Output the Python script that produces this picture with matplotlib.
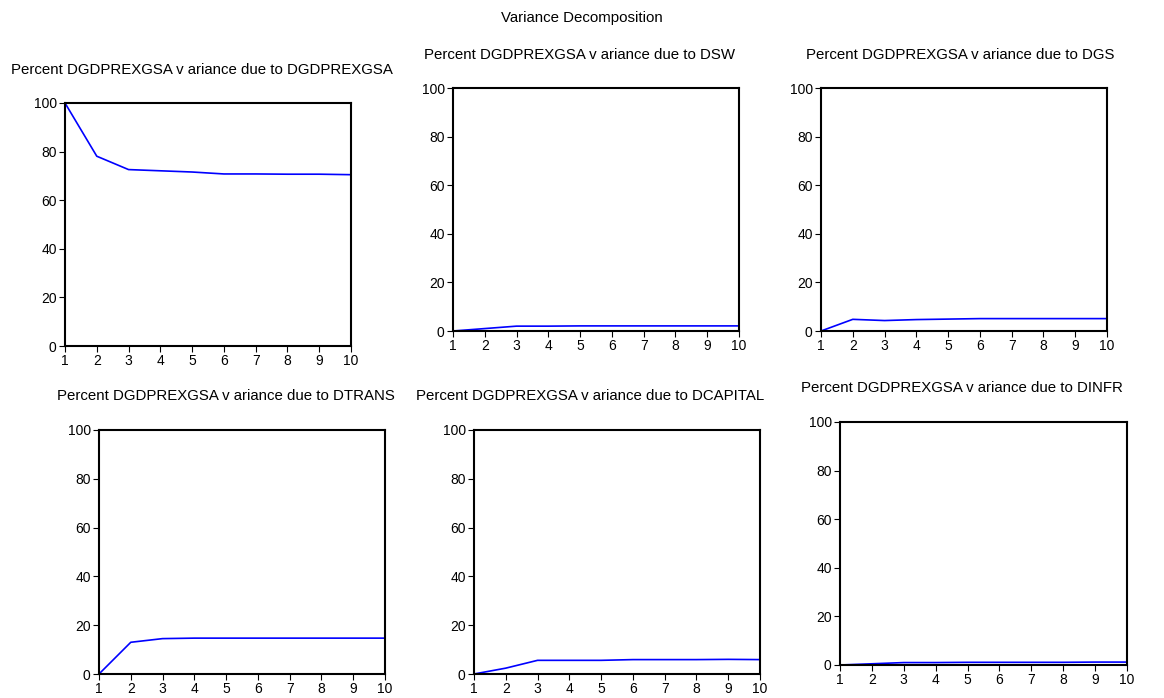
import matplotlib
matplotlib.use("Agg")
import matplotlib.pyplot as plt

plt.rcParams['font.family'] = ['Liberation Sans', 'DejaVu Sans']

periods = [1, 2, 3, 4, 5, 6, 7, 8, 9, 10]
dgdprexgsa = [100.0, 78.1, 72.6, 72.1, 71.6, 70.8, 70.8, 70.7, 70.7, 70.5]
dsw = [0.0, 1.0, 2.0, 2.0, 2.1, 2.1, 2.1, 2.1, 2.1, 2.1]
dgs = [0.0, 4.8, 4.3, 4.7, 4.9, 5.1, 5.1, 5.1, 5.1, 5.1]
dtrans = [0.0, 13.0, 14.5, 14.7, 14.7, 14.7, 14.7, 14.7, 14.7, 14.7]
dcapital = [0.0, 2.4, 5.6, 5.6, 5.6, 5.9, 5.9, 5.9, 6.0, 5.9]
dinfr = [0.0, 0.5, 1.0, 1.0, 1.1, 1.1, 1.1, 1.1, 1.2, 1.2]

titles = [
    "Percent DGDPREXGSA v ariance due to DGDPREXGSA",
    "Percent DGDPREXGSA v ariance due to DSW",
    "Percent DGDPREXGSA v ariance due to DGS",
    "Percent DGDPREXGSA v ariance due to DTRANS",
    "Percent DGDPREXGSA v ariance due to DCAPITAL",
    "Percent DGDPREXGSA v ariance due to DINFR",
]
series = [dgdprexgsa, dsw, dgs, dtrans, dcapital, dinfr]
yticks = [0, 20, 40, 60, 80, 100]

W, H = 1164, 698
fig = plt.figure(figsize=(W / 100, H / 100), dpi=100)

# pixel boxes: left, right, top, bottom, title_y
boxes = [
    (65, 351, 103, 346, 70),
    (453, 739, 88, 331, 55),
    (821, 1107, 88, 331, 55),
    (99, 385, 430, 674, 396),
    (474, 760, 430, 674, 396),
    (840, 1127, 422, 665, 388),
]
title_x = [202, 580, 960, 226, 590, 962]

for i, (l, r, t, b, ty) in enumerate(boxes):
    ax = fig.add_axes([l / W, 1 - b / H, (r - l) / W, (b - t) / H])
    ax.plot(periods, series[i], color='#0000ff', lw=1.2)
    ax.set_xlim(1, 10)
    ax.set_ylim(0, 100)
    ax.set_xticks(periods)
    ax.set_yticks(yticks)
    ax.tick_params(direction='out', length=4, width=0.8, labelsize=10,
                   colors='black', pad=2)
    ax.tick_params(axis='x', pad=1.5)
    for s in ax.spines.values():
        s.set_linewidth(1.5)
    fig.text(title_x[i] / W, 1 - ty / H, titles[i], ha='center', va='center',
             fontsize=10.8)

fig.text(582 / W, 1 - 18 / H, "Variance Decomposition", ha='center',
         va='center', fontsize=10.8)

fig.savefig("out.png", dpi=100)
